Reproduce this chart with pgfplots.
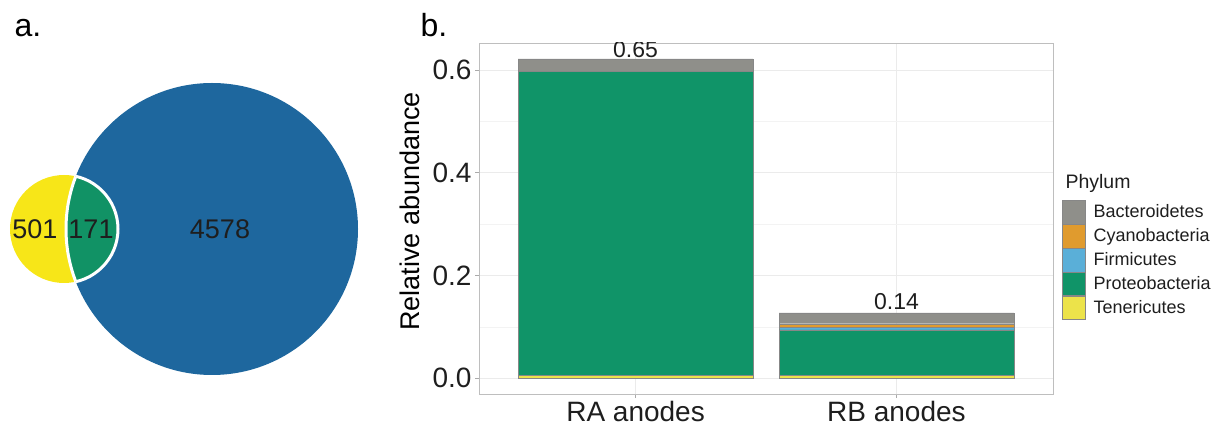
\documentclass[border=0pt]{standalone}
\usepackage{fontspec}
\setmainfont{Liberation Sans}
\usepackage{pgfplots}
\pgfplotsset{compat=1.18}

% Venn colours
\definecolor{vyellow}{RGB}{247,230,24}
\definecolor{vgreen}{RGB}{17,146,101}
\definecolor{vblue}{RGB}{30,103,158}
% phylum colours
\definecolor{cgry}{RGB}{143,143,138}
\definecolor{corg}{RGB}{224,155,46}
\definecolor{cblu}{RGB}{90,175,216}
\definecolor{cgrn}{RGB}{16,148,104}
\definecolor{cyel}{RGB}{236,227,74}
% axis furniture
\definecolor{barline}{RGB}{135,135,135}
\definecolor{gridmaj}{RGB}{235,235,235}
\definecolor{gridmin}{RGB}{243,243,243}
\definecolor{frame}{RGB}{190,190,190}
\definecolor{tickc}{RGB}{170,170,170}
\definecolor{txt}{RGB}{30,30,30}

\begin{document}
\begin{tikzpicture}
\path (0pt,0pt) rectangle (1214pt,428pt);

% ---- a. Venn diagram ----
\begin{axis}[at={(0pt,0pt)}, anchor=south west, scale only axis,
    width=380pt, height=428pt,
    xmin=0, xmax=380, ymin=0, ymax=428,
    hide axis, clip=false]
  \fill[vyellow] (axis cs:64,199) circle[radius=54pt];
  \fill[vblue] (axis cs:212,199) circle[radius=146pt];
  \begin{scope}
    \clip (axis cs:64,199) circle[radius=54pt];
    \fill[vgreen] (axis cs:212,199) circle[radius=146pt];
    \draw[white, line width=3pt] (axis cs:212,199) circle[radius=146pt];
  \end{scope}
  \begin{scope}
    \clip (axis cs:212,199) circle[radius=146pt];
    \draw[white, line width=3pt] (axis cs:64,199) circle[radius=54pt];
  \end{scope}
  \node[font=\fontsize{27}{30}\selectfont, text=txt] at (axis cs:35,199) {501};
  \node[font=\fontsize{27}{30}\selectfont, text=txt] at (axis cs:91,199) {171};
  \node[font=\fontsize{27}{30}\selectfont, text=txt] at (axis cs:220,199) {4578};
\end{axis}

\node[anchor=base west, font=\fontsize{32}{34}\selectfont] at (11pt,391pt) {a.};
\node[anchor=base west, font=\fontsize{32}{34}\selectfont] at (417pt,391pt) {b.};

% ---- b. stacked bars ----
\begin{axis}[at={(479pt,34pt)}, anchor=south west, scale only axis,
    width=574pt, height=351pt,
    ybar stacked, bar width=0.9,
    xmin=-0.6, xmax=1.6, ymin=-0.031, ymax=0.653,
    xtick={0,1}, xticklabels={RA anodes,RB anodes},
    ytick={0,0.2,0.4,0.6}, yticklabels={0.0,0.2,0.4,0.6},
    minor ytick={0.1,0.3,0.5},
    xmajorgrids, ymajorgrids, yminorgrids,
    major grid style={draw=gridmaj, line width=0.8pt},
    minor grid style={draw=gridmin, line width=0.5pt},
    axis line style={draw=frame, line width=0.9pt},
    tick pos=left, tick align=outside,
    major tick length=4pt, minor tick length=0pt,
    tick style={draw=tickc, line width=0.8pt},
    tick label style={font=\fontsize{28}{30}\selectfont, text=txt},
    /pgf/number format/assume math mode=true,
    ylabel={Relative abundance},
    ylabel style={font=\fontsize{27}{30}\selectfont, text=black, xshift=7pt, yshift=6pt},
    every axis plot/.append style={draw=barline, line width=0.3pt},
    reverse legend, legend cell align=left,
    legend style={at={(axis description cs:1.0157,0.5527)}, anchor=north west,
      draw=none, fill=none, inner sep=0pt, row sep=0pt,
      font=\fontsize{18}{20}\selectfont, text=txt,
      nodes={inner sep=0pt, minimum height=23.5pt, anchor=west},
      /tikz/every odd column/.append style={column sep=8pt}},
    legend image code/.code={\draw[#1, draw=barline, line width=0.4pt] (0pt,-11.75pt) rectangle (23pt,11.75pt);},
  ]
  \addplot[fill=cyel] coordinates {(0,0.005) (1,0.005)};
  \addlegendentry{Tenericutes}
  \addplot[fill=cgrn] coordinates {(0,0.593) (1,0.089)};
  \addlegendentry{Proteobacteria}
  \addplot[fill=cblu] coordinates {(0,0) (1,0.005)};
  \addlegendentry{Firmicutes}
  \addplot[fill=corg] coordinates {(0,0) (1,0.007)};
  \addlegendentry{Cyanobacteria}
  \addplot[fill=cgry] coordinates {(0,0.024) (1,0.021)};
  \addlegendentry{Bacteroidetes}

  \node[anchor=base, font=\fontsize{23}{25}\selectfont, text=txt] at (axis cs:0,0.6244) {0.65};
  \node[anchor=base, font=\fontsize{23}{25}\selectfont, text=txt] at (axis cs:1,0.1335) {0.14};
\end{axis}

\node[anchor=base west, font=\fontsize{19.5}{22}\selectfont, text=txt] at (1062pt,239pt) {Phylum};
\end{tikzpicture}
\end{document}
